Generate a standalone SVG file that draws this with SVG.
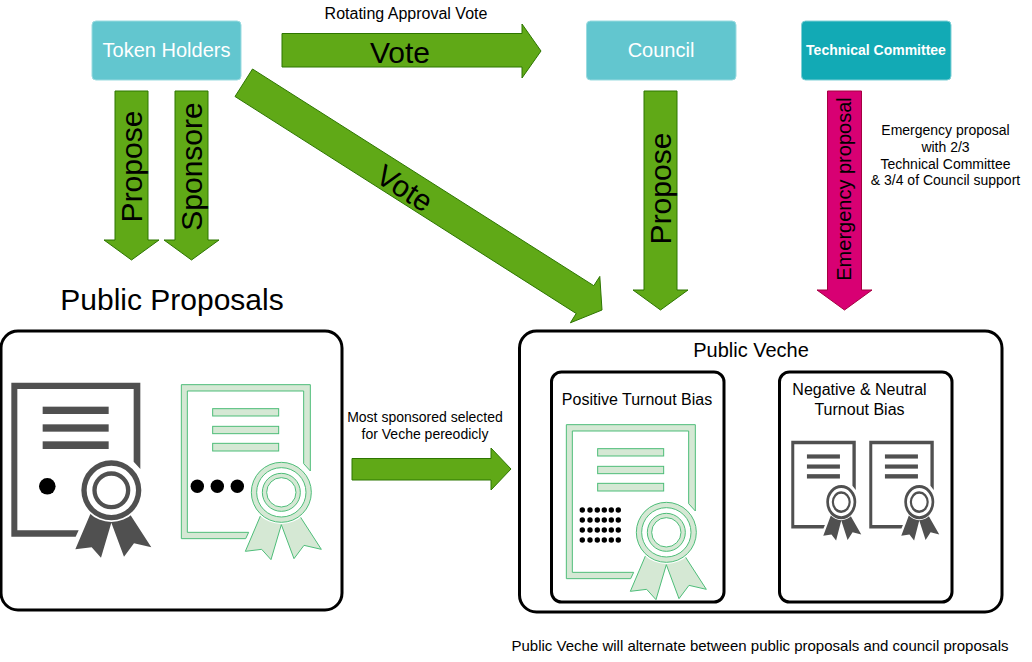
<svg xmlns="http://www.w3.org/2000/svg" xmlns:xlink="http://www.w3.org/1999/xlink" width="1032" height="662" viewBox="0 0 1032 662">
<style>
text{font-family:"Liberation Sans",Arial,sans-serif;fill:#000;text-anchor:middle}
.w{fill:#fff}
.node-light{fill:#62c6cf;stroke:#9adbe0;stroke-width:1}
.node-dark{fill:#12aab5;stroke:#7fd0d6;stroke-width:1}
.ga{fill:#60a917;stroke:#2d7600;stroke-width:1}
.pa{fill:#d80073;stroke:#a50040;stroke-width:1}
.box{fill:#fff;stroke:#000;stroke-width:3}
.gray{fill:#505050;stroke:none}
.green{fill:#d5e8d4;stroke:#4dbd78;stroke-width:3}
.gap{fill:#fff;stroke:none}
</style>
<defs>
<g id="cert-body">
<path d="M34 38H421V297L401 275V57H52V481H236L227 500H34Z"/>
<rect x="128" y="110" width="198" height="22"/>
<rect x="128" y="163" width="198" height="22"/>
<rect x="128" y="214" width="198" height="23"/>
<path d="M272 430L226 538L275 532L303 563L334 458L372 560L402 520L454 532L388 430Z"/>
<circle class="gap" cx="334" cy="361" r="95"/>
<path fill-rule="evenodd" d="M244 361a90 90 0 1 0 180 0a90 90 0 1 0 -180 0ZM260 361a74 74 0 1 0 148 0a74 74 0 1 0 -148 0ZM277 361a57 57 0 1 0 114 0a57 57 0 1 0 -114 0ZM290 361a44 44 0 1 0 88 0a44 44 0 1 0 -88 0Z"/>
</g>
</defs>

<g id="connectors">
<path class="ga" d="M115 91H148V240H159L131.500 260L104 240H115Z"/>
<path class="ga" d="M175 91H208V240H219L191.500 260L164 240H175Z"/>
<path class="ga" d="M282 33.500H522V24L541 51L522 78V67H282Z"/>
<path class="ga" d="M252.500 69L593.800 285.700L599.800 276.400L602 310L570.400 322.800L576.200 313.500L235 96.500Z"/>
<path class="ga" d="M644 91H677V290H688L660.500 310L633 290H644Z"/>
<path class="pa" d="M827.500 91H861.500V290H872L844.500 310L817 290H827.500Z"/>
<path class="ga" d="M352 458.500H491V448L511 469L491 490V480H352Z"/>
<text x="406" y="19" font-size="16">Rotating Approval Vote</text>
<text x="400" y="63" font-size="30">Vote</text>
<text transform="translate(142,166.500) rotate(-90)" font-size="30">Propose</text>
<text transform="translate(201.500,166.500) rotate(-90)" font-size="30">Sponsore</text>
<text transform="translate(399,197) rotate(32.500)" font-size="30">Vote</text>
<text transform="translate(671,188.500) rotate(-90)" font-size="30">Propose</text>
<text transform="translate(850.500,189) rotate(-90)" font-size="20">Emergency proposal</text>
<text font-size="14"><tspan x="945.500" y="135">Emergency proposal</tspan><tspan x="945.500" y="152">with 2/3</tspan><tspan x="945.500" y="169">Technical Committee</tspan><tspan x="945.500" y="185">&amp; 3/4 of Council support</tspan></text>
<text font-size="14"><tspan x="425" y="422">Most sponsored selected</tspan><tspan x="425" y="439">for Veche pereodicly</tspan></text>
</g>

<g id="token-holders"><rect class="node-light" x="92" y="21" width="149" height="59" rx="4"/><text class="w" x="166.500" y="57" font-size="20">Token Holders</text></g>
<g id="council"><rect class="node-light" x="586.500" y="21" width="149.500" height="59" rx="4"/><text class="w" x="661" y="57" font-size="20">Council</text></g>
<g id="technical-committee"><rect class="node-dark" x="801.500" y="21" width="149.500" height="59" rx="4"/><text class="w" x="876" y="55" font-size="14" font-weight="bold">Technical Committee</text></g>

<g id="public-proposals">
<text x="172" y="310" font-size="30">Public Proposals</text>
<rect class="box" x="1" y="331" width="341" height="279" rx="17"/>
<use xlink:href="#cert-body" class="gray" transform="translate(0,370) scale(0.33333)"/>
<circle cx="47.300" cy="486.300" r="8.300"/>
<use xlink:href="#cert-body" class="green" transform="translate(170,372) scale(0.33333)"/>
<circle cx="197.300" cy="486.300" r="6.700"/><circle cx="217.300" cy="486.300" r="6.700"/><circle cx="237.300" cy="486.300" r="6.700"/>
</g>

<g id="public-veche">
<rect class="box" x="519.500" y="331" width="482.500" height="281" rx="17"/>
<text x="751" y="357" font-size="20">Public Veche</text>
</g>

<g id="positive-turnout-bias">
<rect class="box" x="551.500" y="372" width="172.500" height="230" rx="10"/>
<text x="637" y="405" font-size="16">Positive Turnout Bias</text>
<use xlink:href="#cert-body" class="green" transform="translate(555,412) scale(0.33333)"/>
<g id="dots">
<circle cx="582.300" cy="510" r="2.700"/><circle cx="590" cy="510" r="2.700"/><circle cx="597.300" cy="510" r="2.700"/><circle cx="604.300" cy="510" r="2.700"/><circle cx="611.300" cy="510" r="2.700"/><circle cx="618.300" cy="510" r="2.700"/>
<circle cx="582.300" cy="520" r="2.700"/><circle cx="590" cy="520" r="2.700"/><circle cx="597.300" cy="520" r="2.700"/><circle cx="604.300" cy="520" r="2.700"/><circle cx="611.300" cy="520" r="2.700"/><circle cx="618.300" cy="520" r="2.700"/>
<circle cx="582.300" cy="530" r="2.700"/><circle cx="590" cy="530" r="2.700"/><circle cx="597.300" cy="530" r="2.700"/><circle cx="604.300" cy="530" r="2.700"/><circle cx="611.300" cy="530" r="2.700"/><circle cx="618.300" cy="530" r="2.700"/>
<circle cx="582.300" cy="540" r="2.700"/><circle cx="590" cy="540" r="2.700"/><circle cx="597.300" cy="540" r="2.700"/><circle cx="604.300" cy="540" r="2.700"/><circle cx="611.300" cy="540" r="2.700"/><circle cx="618.300" cy="540" r="2.700"/>
</g>
</g>

<g id="negative-neutral-turnout-bias">
<rect class="box" x="779.500" y="372" width="172.500" height="230" rx="10"/>
<text font-size="16"><tspan x="859.500" y="395">Negative &amp; Neutral</tspan><tspan x="859.500" y="415">Turnout Bias</tspan></text>
<use xlink:href="#cert-body" class="gray" transform="translate(785.600,433.500) scale(0.16667,0.19)"/>
<use xlink:href="#cert-body" class="gray" transform="translate(863.600,433.500) scale(0.16667,0.19)"/>
</g>

<text id="footer-note" x="760" y="651" font-size="15">Public Veche will alternate between public proposals and council proposals</text>
</svg>
